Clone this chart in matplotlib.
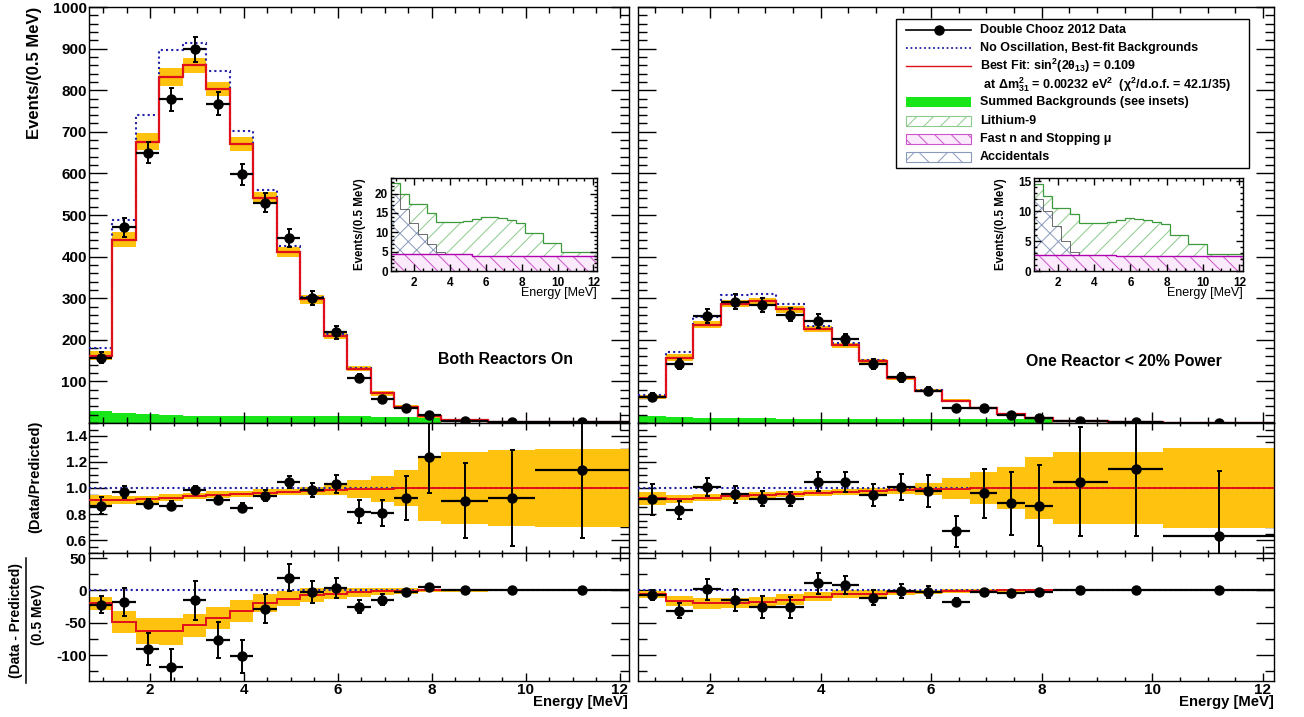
"""Double Chooz 2012 reactor spectra: both reactors on vs one reactor < 20% power."""

import numpy as np
import matplotlib

matplotlib.use("Agg")
import matplotlib.pyplot as plt
from matplotlib.patches import Rectangle
from matplotlib.ticker import FixedLocator, MultipleLocator, FormatStrFormatter

plt.rcParams.update({
    "font.family": ["Liberation Sans", "DejaVu Sans"],
    "font.weight": "bold",
    "mathtext.fontset": "custom",
    "mathtext.rm": "Liberation Sans:bold",
    "mathtext.it": "Liberation Sans:bold",
    "mathtext.bf": "Liberation Sans:bold",
    "axes.unicode_minus": False,
    "hatch.linewidth": 0.7,
})

# ---------------------------------------------------------------- data
edges = [0.7, 1.2, 1.7, 2.2, 2.7, 3.2, 3.7, 4.2, 4.7, 5.2, 5.7, 6.2, 6.7,
         7.2, 7.7, 8.2, 9.2, 10.2, 12.2]

# both reactors on
data_on = [157, 470, 650, 778, 898, 768, 598, 530, 445, 300, 218, 108, 58, 35, 20, 6, 3, 1.5]
err_on = [13, 22, 25, 28, 30, 28, 25, 23, 21, 17, 15, 10, 8, 6, 4.5, 2, 1.5, 1]
noosc_on = [180, 488, 740, 897, 913, 845, 702, 560, 425, 303, 213, 133, 72, 38, 16, 6.7, 3.2, 1.3]
fit_on = [162, 441, 676, 832, 860, 802, 671, 541, 412, 297, 210, 131, 71, 38, 16, 6.7, 3.2, 1.3]
band_on = [10, 17, 20, 21, 18, 17, 17, 14, 12, 11, 8.5, 7, 6, 5, 3, 2, 1, 0.5]
bkg_on = [28, 25, 22, 20, 18, 17, 16, 16, 16, 16, 16, 16, 15, 15, 14]
ratio_on = [0.865, 0.967, 0.878, 0.865, 0.985, 0.908, 0.847, 0.941, 1.048, 0.987,
            1.031, 0.819, 0.806, 0.923, 1.235, 0.903, 0.923, 1.138]
rerr_on = [0.066, 0.045, 0.035, 0.033, 0.033, 0.034, 0.035, 0.04, 0.045, 0.055,
           0.07, 0.085, 0.1, 0.17, 0.27, 0.29, 0.37, 0.52]
rfit_on = [0.905, 0.905, 0.913, 0.925, 0.94, 0.95, 0.955, 0.965, 0.97, 0.98,
           0.985, 0.99, 0.995, 1.0, 1.0, 1.0, 1.0, 1.0]
rband_on = [0.04, 0.03, 0.025, 0.025, 0.025, 0.025, 0.025, 0.025, 0.025, 0.03,
            0.035, 0.07, 0.10, 0.14, 0.25, 0.28, 0.29, 0.30]
diff_on = [-22, -18, -90, -118, -15, -77, -102, -28, 20, -2, 4, -25, -14, -3, 5, 0, 0, 1]
dfit_on = [-20, -48, -62, -63, -54, -42, -31, -20, -12.5, -7, -4.7, -2.6, -1.5, -0.8, 0, 0, 0, 0]

# one reactor < 20% power
data_low = [63, 142, 257, 292, 284, 260, 245, 201, 142, 110, 77, 36, 35, 19, 11, 4, 2, 0.5]
err_low = [8, 12, 16, 17, 17, 16, 16, 14, 12, 10.5, 9, 6, 6, 4.5, 3.3, 2, 1.4, 0.7]
noosc_low = [68, 171, 255, 307, 310, 286, 234, 193, 152, 110, 79, 54, 37, 22, 13, 4, 1.8, 0.8]
fit_low = [63, 157, 236, 287, 293, 273, 225, 187, 148, 108, 78, 54, 37, 22, 13, 4, 1.8, 0.8]
band_low = [5, 8, 8, 8, 8, 8, 7, 6, 5, 4, 3.5, 3, 2.5, 2, 1.5, 1, 0.5, 0.3]
bkg_low = [16, 14, 12, 12, 11, 10, 10, 10, 10, 10, 10, 10, 10, 10, 9]
ratio_low = [0.914, 0.832, 1.01, 0.952, 0.919, 0.914, 1.05, 1.046, 0.947, 1.008,
             0.977, 0.668, 0.959, 0.881, 0.865, 1.05, 1.147, 0.627]
rerr_low = [0.12, 0.07, 0.07, 0.065, 0.06, 0.055, 0.07, 0.08, 0.085, 0.1,
            0.12, 0.12, 0.19, 0.24, 0.31, 0.42, 0.52, 0.5]
rfit_low = [0.92, 0.918, 0.925, 0.935, 0.945, 0.955, 0.962, 0.97, 0.975, 0.985,
            0.99, 0.995, 1.0, 1.0, 1.0, 1.0, 1.0, 1.0]
rband_low = [0.05, 0.03, 0.025, 0.025, 0.025, 0.025, 0.025, 0.025, 0.025, 0.03,
             0.047, 0.08, 0.125, 0.165, 0.24, 0.28, 0.28, 0.305]
diff_low = [-7, -31, 2, -14, -26, -26, 11, 8, -11, -0.5, -2, -18, -3, -4, -3, 0, 0, 0]
dfit_low = [-6, -16, -20, -19, -18, -14, -10, -6, -5, -3, -2, -1, -0.5, 0, 0, 0, 0, 0]

# background insets (top of each stacked component, events / 0.5 MeV)
fn_top_on = [4.4] * 9 + [4.0] * 9
acc_top_on = [20.0, 16.0, 12.5, 9.5, 7.0, 4.8, 4.4, 4.4, 4.4, 4.0, 4.0, 4.0, 4.0, 4.0, 4.0, 4.0, 4.0, 4.0]
li_top_on = [22.7, 20.0, 17.2, 17.2, 14.9, 12.7, 12.7, 12.7, 13.0, 13.4, 13.9, 14.0,
             13.8, 13.2, 12.5, 9.7, 7.2, 4.8]
fn_top_low = [2.7] * 9 + [2.45] * 9
acc_top_low = [12.0, 10.0, 7.5, 5.0, 3.2, 2.7, 2.7, 2.7, 2.7, 2.45, 2.45, 2.45, 2.45,
               2.45, 2.45, 2.45, 2.45, 2.45]
li_top_low = [14.5, 12.5, 10.5, 10.5, 9.5, 8.0, 8.0, 8.0, 8.2, 8.5, 8.8, 8.7, 8.5,
              8.2, 7.8, 6.0, 4.5, 2.9]

# ---------------------------------------------------------------- style
W, H = 1304, 717
ORANGE = "#FFC20E"
GREEN = "#19E619"
RED = "#E0101A"
BLUE = "#2020A8"
LI_HATCH, LI_LINE = "#8CCB8C", "#3C9A3C"
FN_HATCH, FN_LINE = "#CC55CC", "#B000B0"
ACC_HATCH = "#8A9ABD"

e = np.array(edges)
centers = (e[:-1] + e[1:]) / 2
halfw = np.diff(e) / 2

fig = plt.figure(figsize=(W / 100, H / 100), dpi=100)


def px_axes(x0, x1, y0, y1):
    return fig.add_axes([x0 / W, 1 - y1 / H, (x1 - x0) / W, (y1 - y0) / H])


def style(ax, ylen=13, xlen=8, size=11, pad=1.5):
    ax.set_xlim(0.7, 12.2)
    ax.tick_params(which="both", direction="in", top=True, right=True,
                   labelsize=size, width=1, pad=pad)
    ax.tick_params(axis="y", which="major", length=ylen)
    ax.tick_params(axis="y", which="minor", length=ylen / 2)
    ax.tick_params(axis="x", which="major", length=xlen)
    ax.tick_params(axis="x", which="minor", length=xlen / 2)
    ax.xaxis.set_major_locator(MultipleLocator(2))
    ax.xaxis.set_minor_locator(MultipleLocator(0.5))
    for s in ax.spines.values():
        s.set_linewidth(1.0)


def points(ax, y, yerr):
    ax.errorbar(centers, y, xerr=halfw, fmt="none", ecolor="k", elinewidth=1.6,
                capsize=0, zorder=5)
    ax.errorbar(centers, y, yerr=yerr, fmt="o", color="k", ms=6.5, elinewidth=1.4,
                capsize=1.8, capthick=1.4, zorder=6)


def band(ax, mid, half):
    mid, half = np.array(mid), np.array(half)
    ax.stairs(mid + half, edges, baseline=mid - half, fill=True, color=ORANGE,
              lw=0, zorder=2)


def main_panel(ax, data, err, noosc, fit, bnd, bkg, label_left):
    ax.stairs(bkg, edges[:len(bkg) + 1], baseline=0, fill=True, color=GREEN, lw=0, zorder=1)
    band(ax, fit, bnd)
    ax.stairs(noosc, edges, baseline=None, color=BLUE, ls=(0, (1, 1.5)), lw=1.5, zorder=3)
    ax.stairs(fit, edges, baseline=None, color=RED, lw=1.6, zorder=4)
    points(ax, data, err)
    style(ax, ylen=13, xlen=8)
    ax.set_ylim(0, 1000)
    ax.yaxis.set_major_locator(FixedLocator(range(100, 1001, 100)))
    ax.yaxis.set_minor_locator(MultipleLocator(20))
    ax.tick_params(labelbottom=False, labelleft=label_left)


def ratio_panel(ax, ratio, rerr, rfit, rbnd, label_left):
    band(ax, rfit, rbnd)
    ax.axhline(1.0, color=BLUE, ls=(0, (1, 1.5)), lw=1.5, zorder=3)
    ax.stairs(rfit, edges, baseline=None, color=RED, lw=1.4, zorder=4)
    points(ax, ratio, rerr)
    style(ax, ylen=13, xlen=5)
    ax.set_ylim(0.5, 1.5)
    ax.yaxis.set_major_locator(FixedLocator([0.6, 0.8, 1.0, 1.2, 1.4]))
    ax.yaxis.set_minor_locator(MultipleLocator(0.05))
    ax.yaxis.set_major_formatter(FormatStrFormatter("%.1f"))
    ax.tick_params(labelbottom=False, labelleft=label_left)


def diff_panel(ax, diff, err, dfit, dbnd, label_left):
    band(ax, dfit, dbnd)
    ax.axhline(0.0, color=BLUE, ls=(0, (1, 1.5)), lw=1.5, zorder=3)
    ax.stairs(dfit, edges, baseline=None, color=RED, lw=1.4, zorder=4)
    points(ax, diff, err)
    style(ax, ylen=13, xlen=6)
    ax.set_ylim(-140, 58)
    ax.yaxis.set_major_locator(FixedLocator([-100, -50, 0, 50]))
    ax.yaxis.set_minor_locator(MultipleLocator(25))
    ax.yaxis.set_major_formatter(FormatStrFormatter("%d"))
    ax.tick_params(labelleft=label_left)


def inset(x0, x1, y0, y1, fn_top, acc_top, li_top, ymax, yticks):
    ax = px_axes(x0, x1, y0, y1)
    ax.stairs(li_top, edges, baseline=acc_top, fill=True, facecolor="white",
              edgecolor=LI_HATCH, hatch="//", lw=0)
    ax.stairs(acc_top, edges, baseline=fn_top, fill=True, facecolor="white",
              edgecolor=ACC_HATCH, hatch="xx", lw=0)
    ax.stairs(fn_top, edges, baseline=0, fill=True, facecolor="#FBEAFB",
              edgecolor=FN_HATCH, hatch="\\\\", lw=0)
    ax.stairs(li_top, edges, baseline=None, color=LI_LINE, lw=0.9)
    ax.stairs(acc_top, edges, baseline=None, color="#555555", lw=0.6)
    ax.stairs(fn_top, edges, baseline=None, color=FN_LINE, lw=1.0)
    style(ax, ylen=5, xlen=5, size=8.5, pad=2)
    ax.tick_params(axis="x", pad=4)
    ax.set_ylim(0, ymax)
    ax.yaxis.set_major_locator(FixedLocator(yticks))
    ax.yaxis.set_minor_locator(MultipleLocator(1))
    ax.set_xlabel("Energy [MeV]", loc="right", fontsize=9, labelpad=-1)
    return ax


# ---------------------------------------------------------------- panels
LX0, LX1, RX0, RX1 = 89, 629, 638, 1274
Y_MAIN, Y_RAT, Y_DIF, Y_BOT = 7, 423, 553, 681

main_panel(px_axes(LX0, LX1, Y_MAIN, Y_RAT), data_on, err_on, noosc_on, fit_on,
           band_on, bkg_on, True)
ratio_panel(px_axes(LX0, LX1, Y_RAT, Y_DIF), ratio_on, rerr_on, rfit_on, rband_on, True)
diff_panel(px_axes(LX0, LX1, Y_DIF, Y_BOT), diff_on, err_on, dfit_on, band_on, True)

main_panel(px_axes(RX0, RX1, Y_MAIN, Y_RAT), data_low, err_low, noosc_low, fit_low,
           band_low, bkg_low, False)
ratio_panel(px_axes(RX0, RX1, Y_RAT, Y_DIF), ratio_low, rerr_low, rfit_low, rband_low, False)
diff_panel(px_axes(RX0, RX1, Y_DIF, Y_BOT), diff_low, err_low, dfit_low, band_low, False)

inset(391, 597, 178, 271, fn_top_on, acc_top_on, li_top_on, 24, [0, 5, 10, 15, 20])
inset(1034, 1243, 178, 271, fn_top_low, acc_top_low, li_top_low, 15.5, [0, 5, 10, 15])

# ---------------------------------------------------------------- overlay texts + legend
ov = fig.add_axes([0, 0, 1, 1], zorder=10)
ov.set_xlim(0, W)
ov.set_ylim(H, 0)
ov.axis("off")
ov.patch.set_alpha(0)

ov.text(35, 73, "Events/(0.5 MeV)", rotation=90, ha="center", va="center", fontsize=12)
ov.text(35, 477, "(Data/Predicted)", rotation=90, ha="center", va="center", fontsize=10.5)
ov.text(16, 620, "(Data - Predicted)", rotation=90, ha="center", va="center", fontsize=10)
ov.plot([26, 26], [558, 683], color="k", lw=1.1)
ov.text(38, 614, "(0.5 MeV)", rotation=90, ha="center", va="center", fontsize=10)
ov.text(360, 224, "Events/(0.5 MeV)", rotation=90, ha="center", va="center", fontsize=8.3)
ov.text(1001, 224, "Events/(0.5 MeV)", rotation=90, ha="center", va="center", fontsize=8.3)

ov.text(628, 702, "Energy [MeV]", ha="right", va="center", fontsize=10.7)
ov.text(1274, 702, "Energy [MeV]", ha="right", va="center", fontsize=10.7)
ov.text(505, 360, "Both Reactors On", ha="center", va="center", fontsize=11.4)
ov.text(1124, 361, "One Reactor < 20% Power", ha="center", va="center", fontsize=11.4)

# legend
ov.add_patch(Rectangle((896, 19), 353, 149, facecolor="white", edgecolor="black", lw=1.0))
rows = [30 + 18.1 * i for i in range(8)]
SX0, SX1, TX = 906, 971, 980
ov.plot([SX0, SX1], [rows[0]] * 2, color="k", lw=1.2)
ov.plot([(SX0 + SX1) / 2], [rows[0]], "o", color="k", ms=6.5)
ov.plot([SX0, SX1], [rows[1]] * 2, color=BLUE, ls=(0, (1, 1.5)), lw=1.3)
ov.plot([SX0, SX1], [rows[2]] * 2, color=RED, lw=1.0)
ov.add_patch(Rectangle((SX0, rows[4] - 5), SX1 - SX0, 10, facecolor=GREEN, lw=0))
ov.add_patch(Rectangle((SX0, rows[5] - 5), SX1 - SX0, 10, facecolor="white",
                       edgecolor=LI_HATCH, hatch="//", lw=0.8))
ov.add_patch(Rectangle((SX0, rows[6] - 5), SX1 - SX0, 10, facecolor="#FBEAFB",
                       edgecolor=FN_HATCH, hatch="\\\\", lw=0.8))
ov.add_patch(Rectangle((SX0, rows[7] - 5), SX1 - SX0, 10, facecolor="white",
                       edgecolor=ACC_HATCH, hatch="x", lw=0.8))

labels = [
    "Double Chooz 2012 Data",
    "No Oscillation, Best-fit Backgrounds",
    r"Best Fit: sin$^{2}$(2$\theta_{13}$) = 0.109",
    r" at $\Delta\mathrm{m}^{2}_{31}$ = 0.00232 eV$^{2}$  ($\chi^{2}$/d.o.f. = 42.1/35)",
    "Summed Backgrounds (see insets)",
    "Lithium-9",
    "Fast n and Stopping \u03bc",
    "Accidentals",
]
for y, txt in zip(rows, labels):
    ov.text(TX, y, txt, ha="left", va="center", fontsize=9)

fig.savefig("out.png", dpi=100, facecolor="white")
